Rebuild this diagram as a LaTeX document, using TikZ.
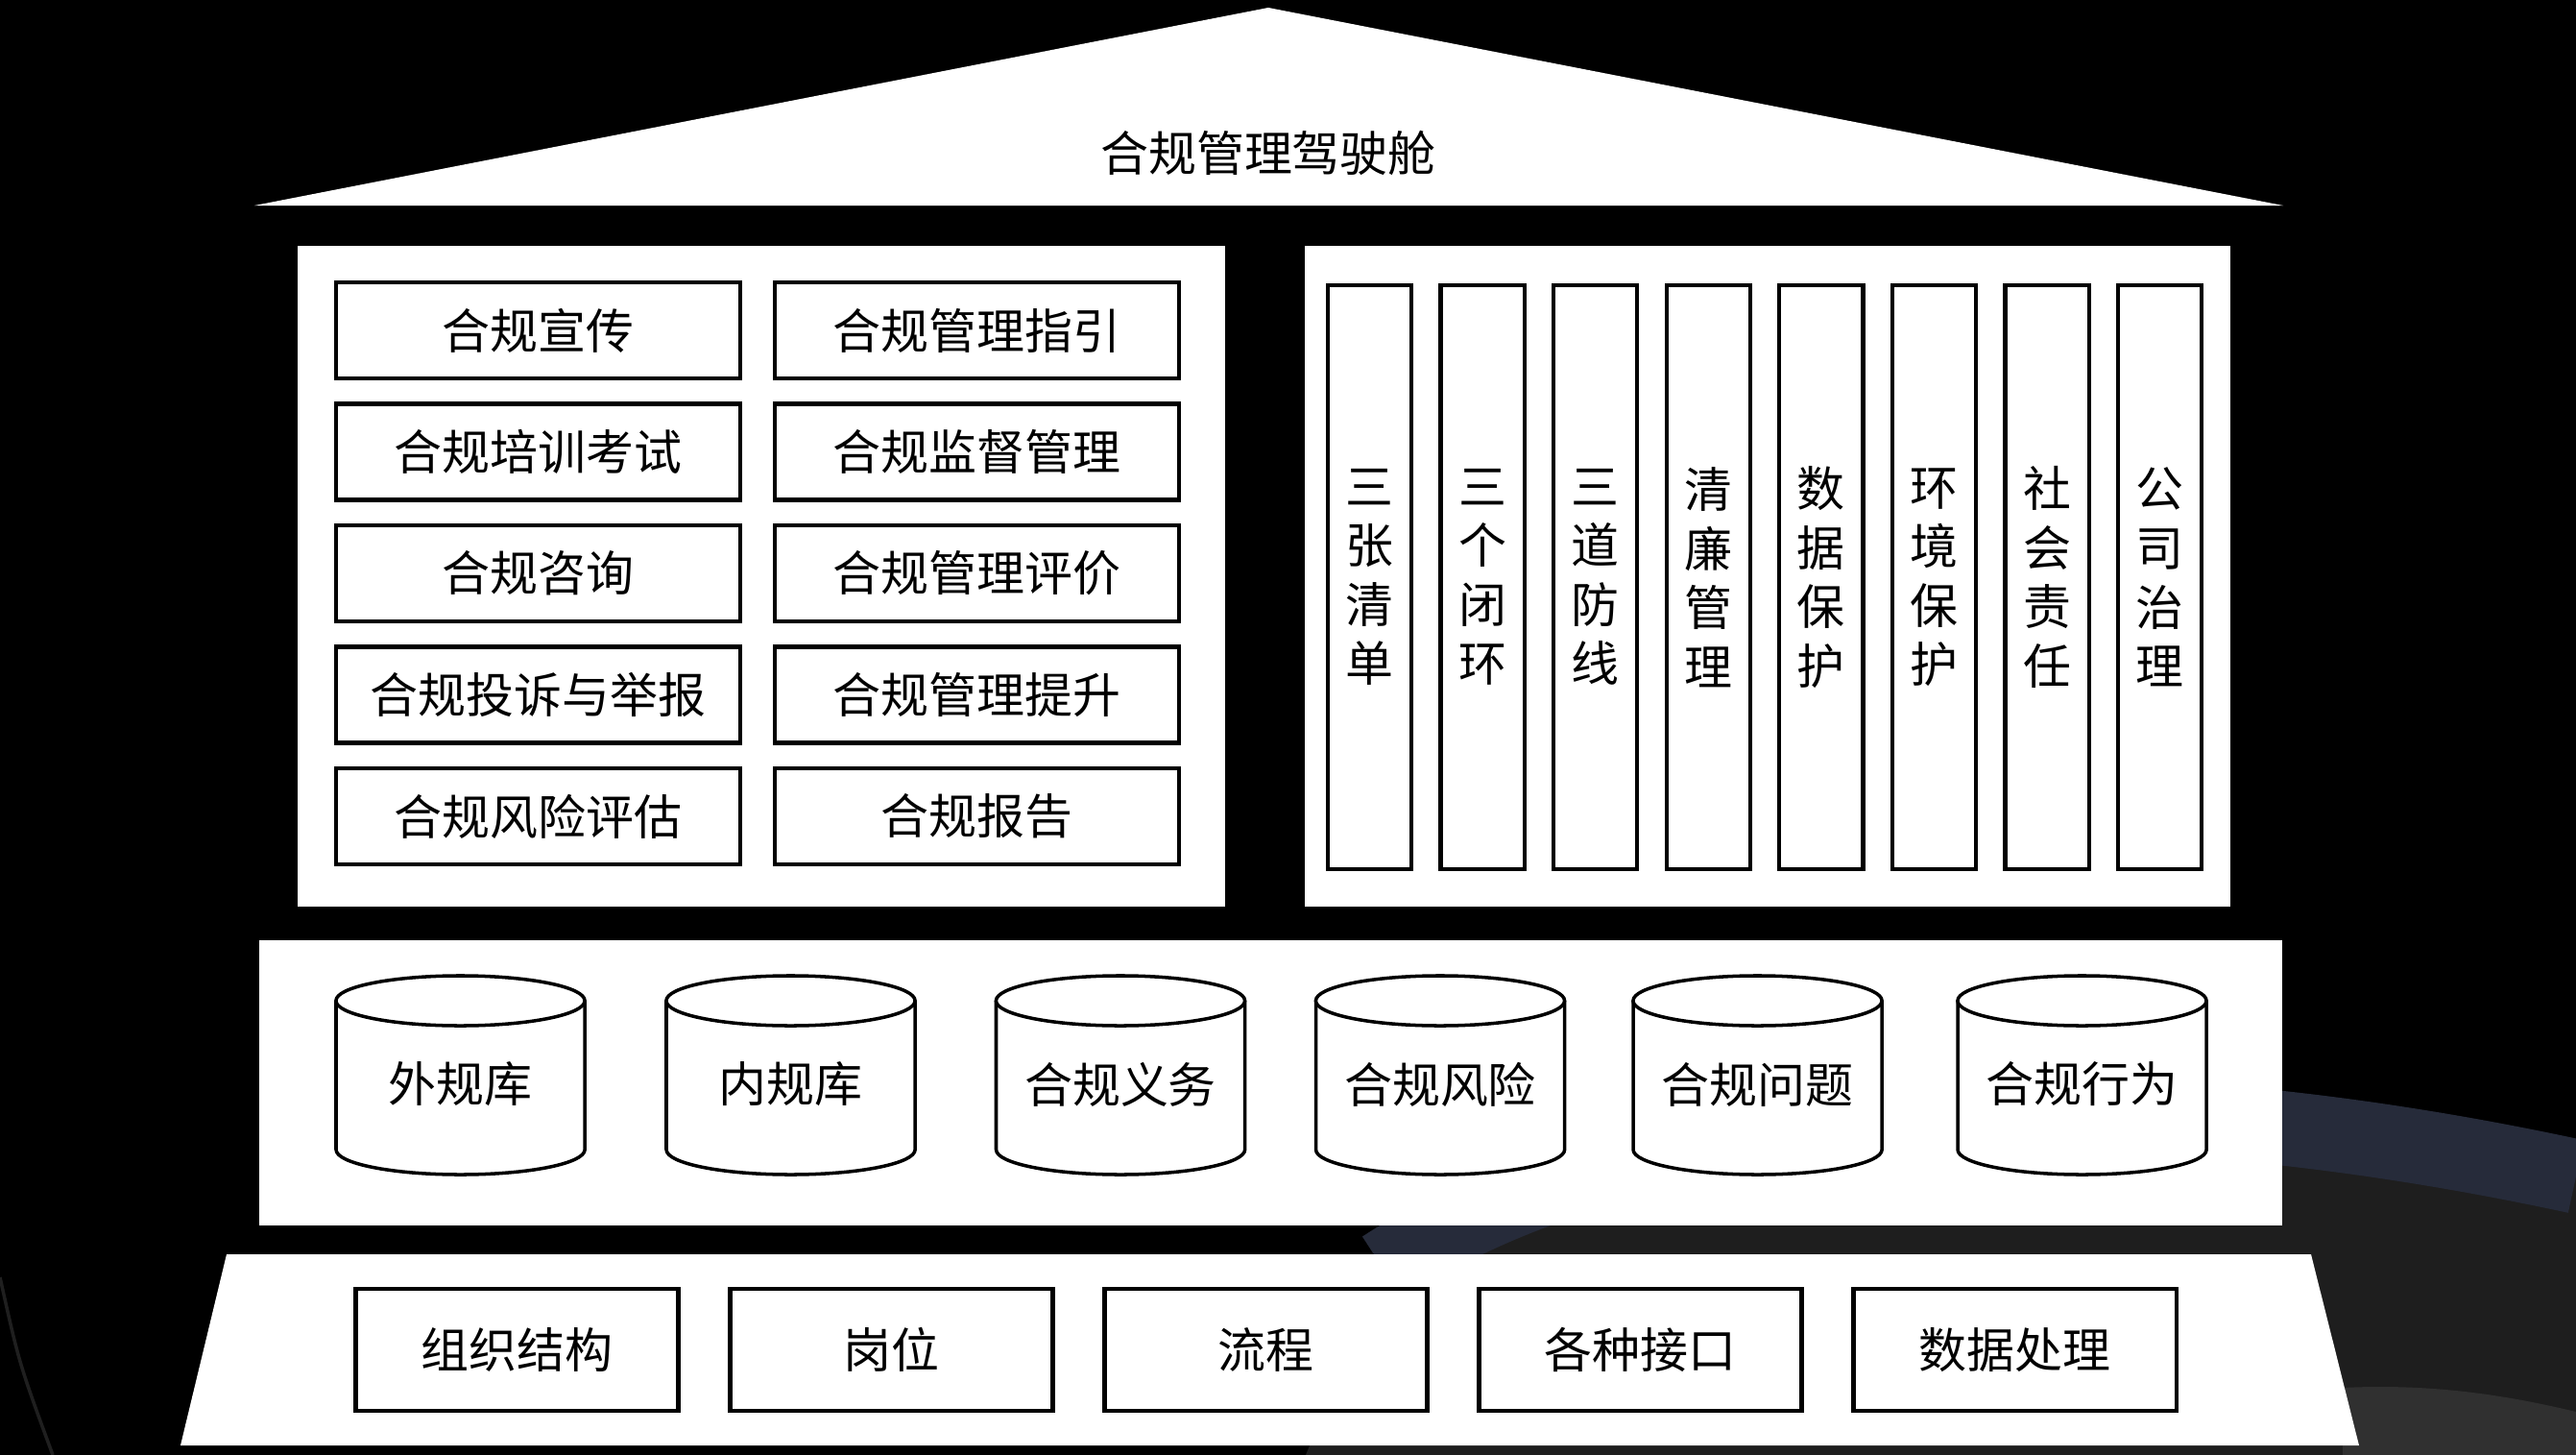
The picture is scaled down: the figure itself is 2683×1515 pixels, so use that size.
\documentclass[tikz,border=0pt]{standalone}
\usepackage{fontspec}
\newfontfamily\cjk{Noto Sans CJK SC}
\definecolor{bandblue}{HTML}{262B3A}
\definecolor{floorgray}{HTML}{1E1E1E}
\definecolor{rimgray}{HTML}{303030}

\begin{document}
\begin{tikzpicture}[
    x=0.01cm, y=-0.01cm, % one unit = one pixel of the reference, y runs down
    every node/.style={font=\cjk\fontsize{14.2pt}{17.5pt}\selectfont, text=black},
    item box/.style={draw=black, line width=1.2pt, fill=white, minimum width=4.21cm, minimum height=1cm, inner sep=0pt},
    pillar box/.style={draw=black, line width=1.2pt, fill=white, minimum width=0.87cm, minimum height=6.07cm, align=center, inner sep=0pt},
    base box/.style={draw=black, line width=1.2pt, fill=white, minimum width=3.36cm, minimum height=1.27cm, inner sep=0pt},
    drum line/.style={draw=black, line width=1pt, fill=white}
]

    % --- 1. BACKGROUND ---
    \fill[black] (0,0) rectangle (2683,1515);
    \useasboundingbox (0,0) rectangle (2683,1515);

    % dark floor and blue swoosh, bottom right
    \fill[floorgray] (1440,1320) .. controls (1700,1150) and (2150,1110) .. (2683,1225) -- (2683,1515) -- (1360,1515) -- cycle;
    \fill[rimgray] (2440,1445) .. controls (2540,1440) and (2620,1455) .. (2683,1470) -- (2683,1515) -- (2440,1515) -- cycle;
    \draw[bandblue, line width=22pt] (1440,1320) .. controls (1700,1150) and (2150,1110) .. (2683,1225);
    \draw[black!88!white, line width=1pt] (0,1330) .. controls (20,1420) .. (55,1515);

    % --- 2. ROOF ---
    \fill[white] (265,214) -- (1321,8) -- (2378,214) -- cycle;
    \node (title) at (1321,159) {合规管理驾驶舱};

    % --- 3. PANELS ---
    \fill[white] (310,256) rectangle (1276,944);
    \fill[white] (1359,256) rectangle (2323,944);
    \fill[white] (270,979) rectangle (2377,1276);
    \fill[white] (236,1306) -- (2407,1306) -- (2457,1505) -- (188,1505) -- cycle;

    % Left panel: two columns of items
    \foreach \txt [count=\i from 0] in {合规宣传, 合规培训考试, 合规咨询, 合规投诉与举报, 合规风险评估}
        \node[item box] (left-\i) at (560.5, {344+126.5*\i}) {\txt};
    \foreach \txt [count=\i from 0] in {合规管理指引, 合规监督管理, 合规管理评价, 合规管理提升, 合规报告}
        \node[item box] (right-\i) at (1017.5, {344+126.5*\i}) {\txt};

    % Right panel: pillars
    \foreach \txt [count=\i from 0] in {三\\张\\清\\单, 三\\个\\闭\\环, 三\\道\\防\\线, 清\\廉\\管\\理,
                                        数\\据\\保\\护, 环\\境\\保\\护, 社\\会\\责\\任, 公\\司\\治\\理}
        \node[pillar box] (pillar-\i) at ({1426.5+117.6*\i}, 601) {\txt};

    % Middle panel: databases
    \foreach \cx/\txt [count=\i] in {479.5/外规库, 823.5/内规库, 1167/合规义务, 1500/合规风险, 1830.5/合规问题, 2168.5/合规行为} {
        \filldraw[drum line] (\cx-129.5,1042) -- (\cx-129.5,1197)
            arc[start angle=180, end angle=360, x radius=1.295cm, y radius=0.26cm] -- (\cx+129.5,1042);
        \draw[drum line] (\cx,1042) ellipse[x radius=1.295cm, y radius=0.26cm];
        \node (drum-\i) at (\cx,1129) {\txt};
    }

    % Base: foundation items
    \foreach \txt [count=\i from 0] in {组织结构, 岗位, 流程, 各种接口, 数据处理}
        \node[base box] (base-\i) at ({538.5+390*\i}, 1405.5) {\txt};

\end{tikzpicture}
\end{document}
